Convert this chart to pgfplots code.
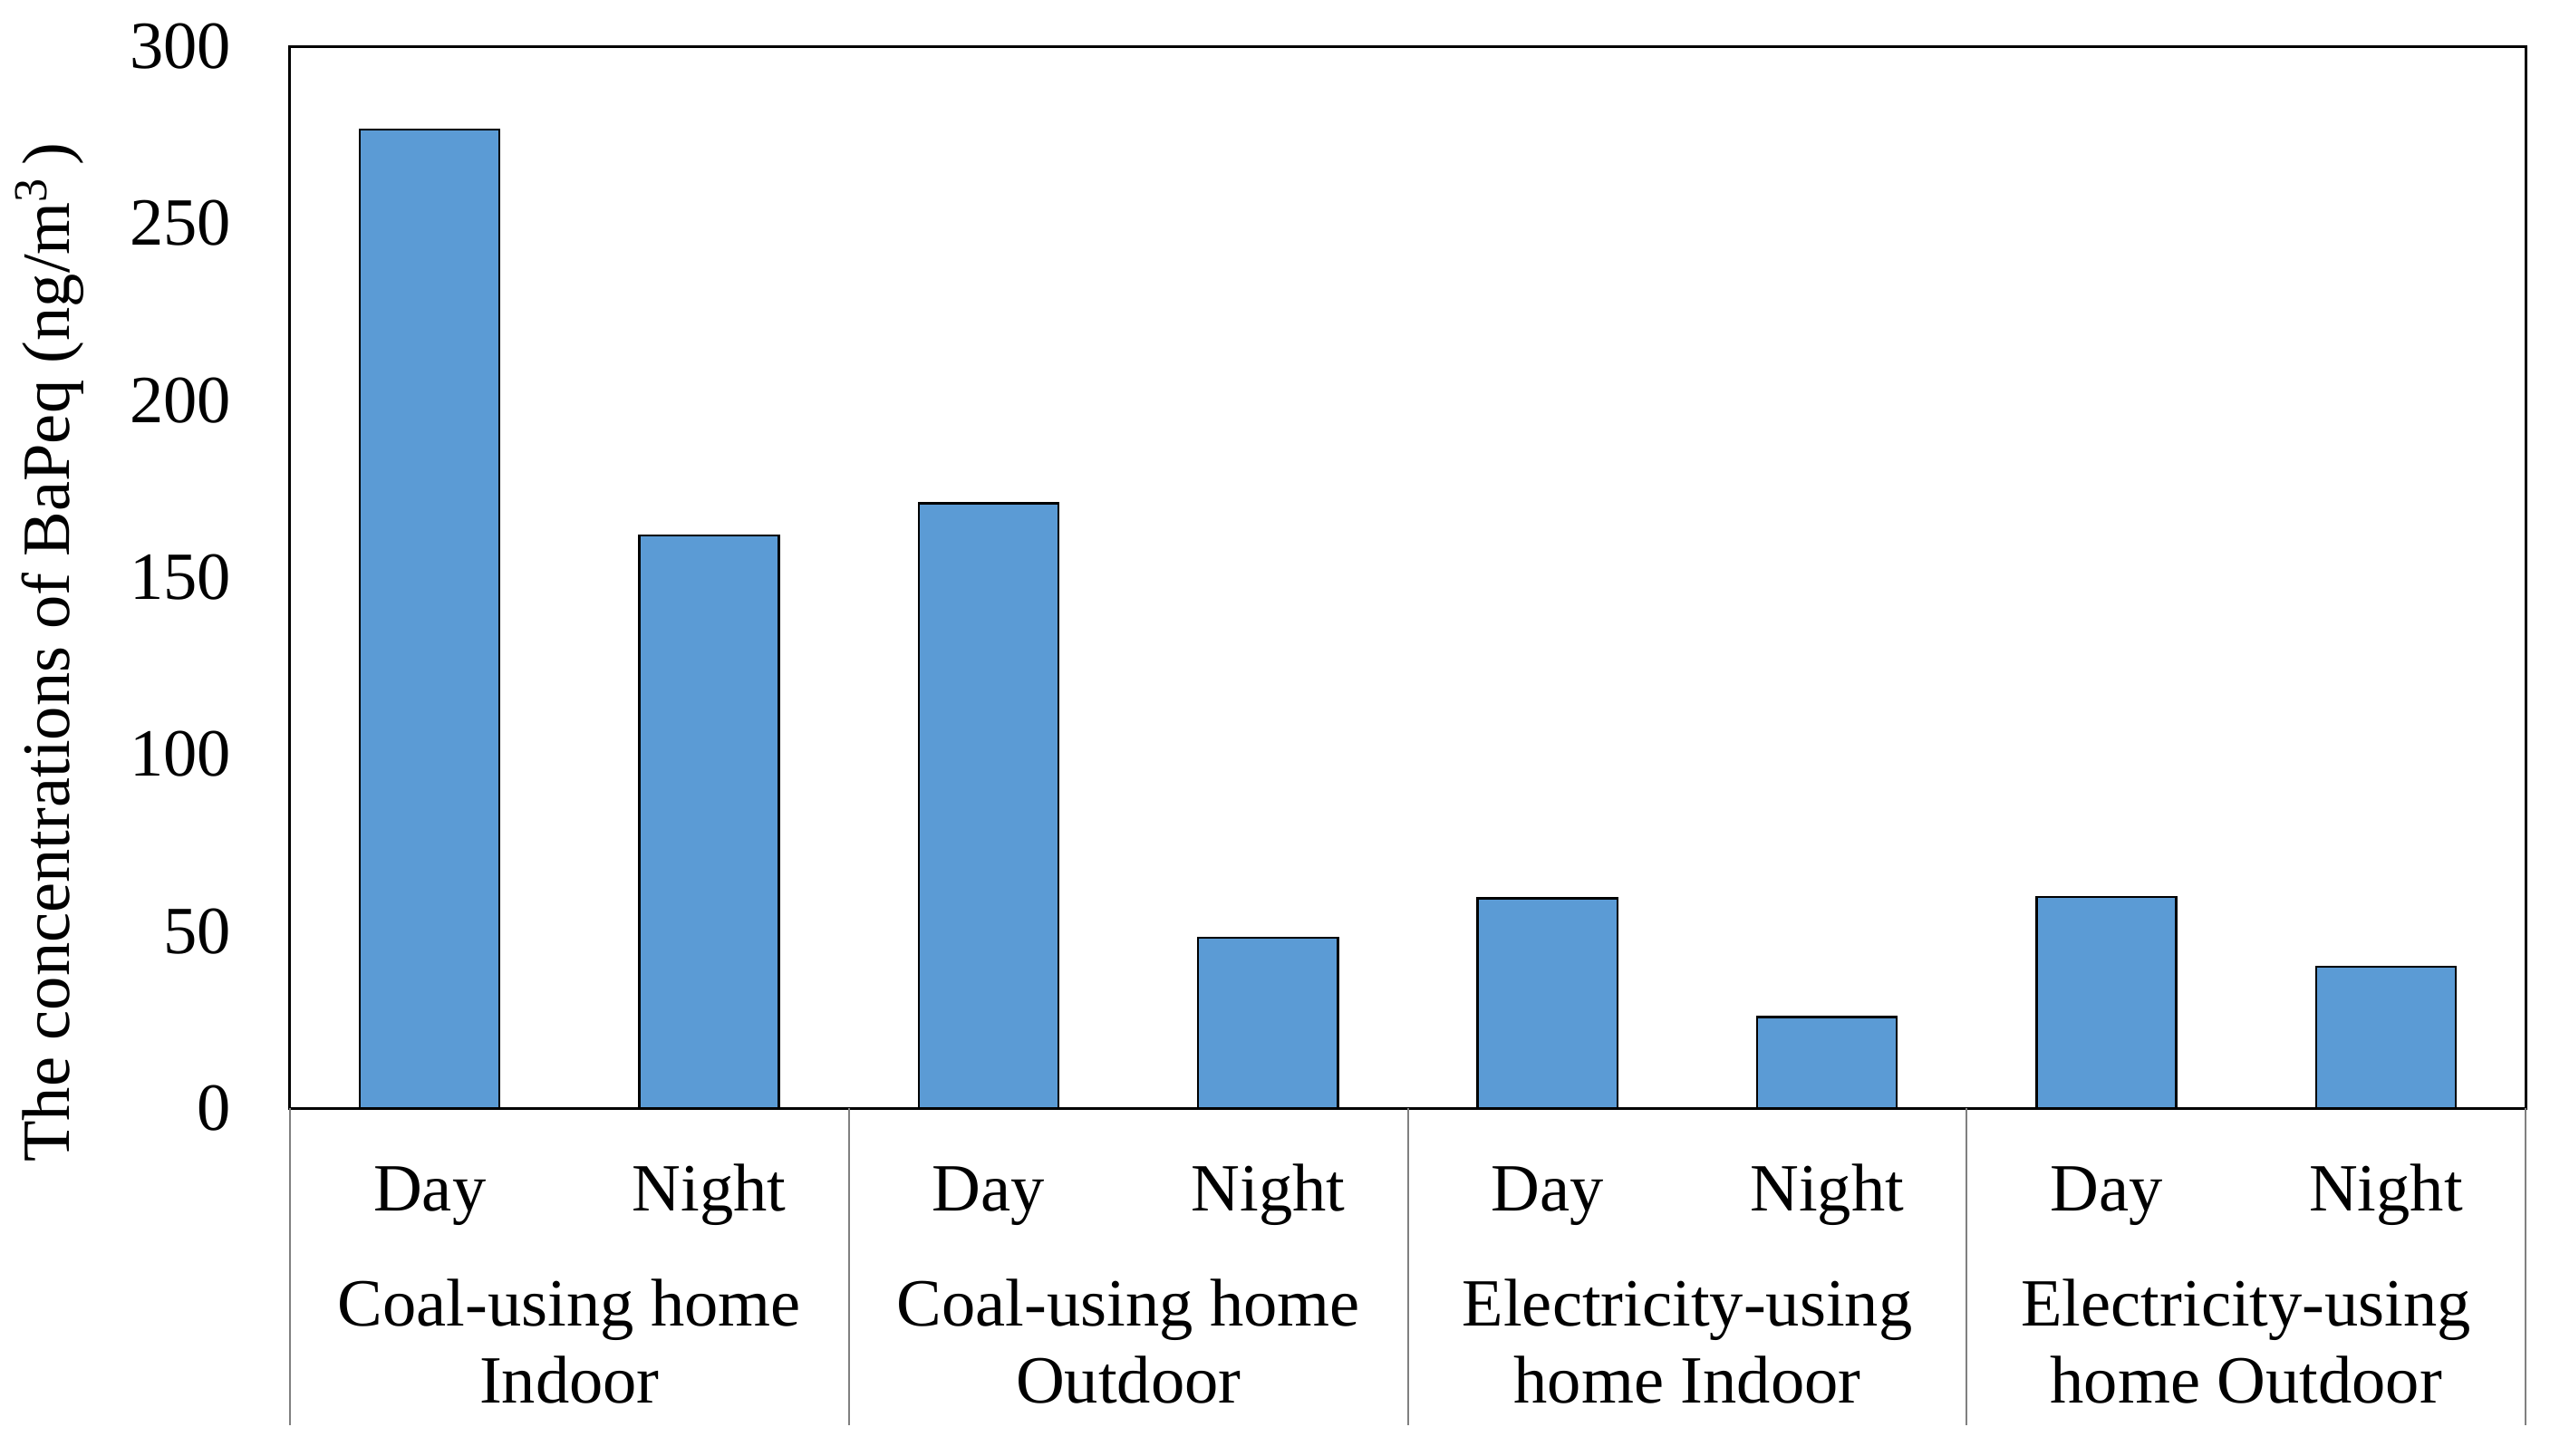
\documentclass[border=0pt]{standalone}
\usepackage{fontspec}
\setmainfont{Liberation Serif}
\usepackage{pgfplots}
\pgfplotsset{compat=1.18}
\definecolor{barblue}{HTML}{5B9BD5}
\definecolor{sepgray}{HTML}{808080}
\begin{document}
\fontsize{18.7}{22}\selectfont
\begin{tikzpicture}
\useasboundingbox (-80bp,-96bp) rectangle (623.5bp,305.75bp);
\begin{axis}[
  at={(0,0)}, anchor=south west,
  scale only axis,
  width=616.8bp, height=293bp,
  xmin=-0.5, xmax=7.5,
  ymin=0, ymax=300,
  ytick={0,50,...,300},
  xtick={0,...,7},
  xticklabels={Day,Night,Day,Night,Day,Night,Day,Night},
  major tick length=0pt,
  axis line style={line width=0.75bp, black},
  /pgf/number format/assume math mode=true,
  yticklabel style={anchor=east, inner sep=0pt, xshift=-16bp, font=\fontsize{18.7}{22}\selectfont},
  xticklabel style={anchor=base, inner sep=0pt, yshift=-28.3bp, font=\fontsize{18.7}{22}\selectfont},
  ylabel={The concentrations of BaPeq (ng/m\textsuperscript{3}\,)},
  ylabel style={at={(axis description cs:-0.1075,0.429)}, anchor=center, font=\fontsize{18.7}{22}\selectfont},
  clip=false,
  ybar, bar width=38.55bp,
]
\addplot[fill=barblue, draw=black, line width=0.6bp] coordinates {
(0,276.5) (1,161.7) (2,170.9) (3,48.2) (4,59.3) (5,25.7) (6,59.7) (7,40.0)
};
\foreach \xs in {-0.5,1.5,3.5,5.5,7.5} {
  \edef\temp{\noexpand\draw[sepgray, line width=0.5bp] (axis cs:\xs,0) -- ([yshift=-87.5bp]axis cs:\xs,0);}
  \temp
}
\node[anchor=base, inner sep=0pt] at ([yshift=-60.1bp]axis cs:0.5,0) {Coal-using home};
\node[anchor=base, inner sep=0pt] at ([yshift=-81.3bp]axis cs:0.5,0) {Indoor};
\node[anchor=base, inner sep=0pt] at ([yshift=-60.1bp]axis cs:2.5,0) {Coal-using home};
\node[anchor=base, inner sep=0pt] at ([yshift=-81.3bp]axis cs:2.5,0) {Outdoor};
\node[anchor=base, inner sep=0pt] at ([yshift=-60.1bp]axis cs:4.5,0) {Electricity-using};
\node[anchor=base, inner sep=0pt] at ([yshift=-81.3bp]axis cs:4.5,0) {home Indoor};
\node[anchor=base, inner sep=0pt] at ([yshift=-60.1bp]axis cs:6.5,0) {Electricity-using};
\node[anchor=base, inner sep=0pt] at ([yshift=-81.3bp]axis cs:6.5,0) {home Outdoor};
\end{axis}
\end{tikzpicture}
\end{document}
